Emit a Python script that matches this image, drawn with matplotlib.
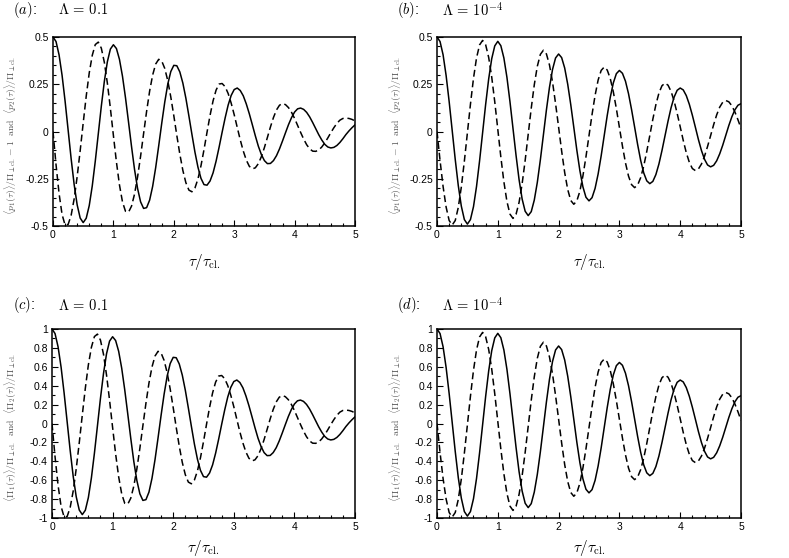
import numpy as np
import matplotlib
matplotlib.use("Agg")
import matplotlib.pyplot as plt
from matplotlib.ticker import MultipleLocator

plt.rcParams['mathtext.fontset'] = 'cm'
plt.rcParams['axes.unicode_minus'] = False
plt.rcParams['font.family'] = ['Liberation Sans', 'DejaVu Sans']

# time grid tau / tau_cl (step 0.05)
tau = np.linspace(0.0, 5.0, 101)

# (a) Lambda = 0.1 : <p1>/Pi - 1 (solid), <p2>/Pi (dashed)
a_solid = [
    0.500, 0.476, 0.406, 0.298, 0.161, 0.009, -0.143, -0.280, -0.388, -0.458,
    -0.482, -0.459, -0.392, -0.288, -0.157, -0.012, 0.134, 0.265, 0.369, 0.436,
    0.459, 0.439, 0.382, 0.293, 0.179, 0.051, -0.079, -0.201, -0.301, -0.372,
    -0.407, -0.403, -0.363, -0.290, -0.191, -0.076, 0.043, 0.155, 0.250, 0.317,
    0.350, 0.348, 0.315, 0.256, 0.176, 0.082, -0.015, -0.109, -0.189, -0.248,
    -0.281, -0.284, -0.262, -0.219, -0.157, -0.083, -0.004, 0.072, 0.140, 0.191,
    0.222, 0.230, 0.217, 0.189, 0.146, 0.094, 0.036, -0.023, -0.078, -0.122,
    -0.154, -0.170, -0.169, -0.154, -0.128, -0.092, -0.050, -0.006, 0.037, 0.074,
    0.103, 0.120, 0.124, 0.117, 0.101, 0.077, 0.047, 0.015, -0.017, -0.045,
    -0.068, -0.082, -0.087, -0.084, -0.074, -0.058, -0.038, -0.016, 0.003, 0.020,
    0.035]
a_dashed = [
    0.000, -0.175, -0.327, -0.439, -0.495, -0.492, -0.444, -0.357, -0.239, -0.101,
    0.045, 0.187, 0.310, 0.403, 0.460, 0.473, 0.441, 0.366, 0.256, 0.123,
    -0.021, -0.161, -0.282, -0.372, -0.422, -0.427, -0.395, -0.331, -0.241, -0.131,
    -0.011, 0.107, 0.214, 0.299, 0.357, 0.382, 0.373, 0.334, 0.269, 0.183,
    0.084, -0.021, -0.120, -0.206, -0.271, -0.310, -0.319, -0.299, -0.251, -0.181,
    -0.096, -0.004, 0.085, 0.162, 0.219, 0.251, 0.254, 0.237, 0.201, 0.150,
    0.089, 0.022, -0.044, -0.103, -0.151, -0.184, -0.198, -0.192, -0.170, -0.133,
    -0.085, -0.031, 0.024, 0.074, 0.114, 0.139, 0.148, 0.142, 0.126, 0.101,
    0.069, 0.032, -0.005, -0.040, -0.070, -0.092, -0.104, -0.105, -0.098, -0.082,
    -0.060, -0.034, -0.006, 0.020, 0.043, 0.060, 0.069, 0.071, 0.069, 0.064,
    0.056]

# (b) Lambda = 1e-4
b_solid = [
    0.500, 0.476, 0.406, 0.296, 0.158, 0.005, -0.148, -0.286, -0.395, -0.466,
    -0.490, -0.466, -0.398, -0.291, -0.156, -0.007, 0.143, 0.278, 0.385, 0.453,
    0.477, 0.454, 0.389, 0.287, 0.158, 0.016, -0.126, -0.255, -0.357, -0.422,
    -0.445, -0.424, -0.363, -0.269, -0.150, -0.018, 0.115, 0.234, 0.328, 0.389,
    0.410, 0.391, 0.336, 0.250, 0.142, 0.022, -0.099, -0.207, -0.293, -0.348,
    -0.367, -0.350, -0.301, -0.225, -0.129, -0.022, 0.085, 0.181, 0.257, 0.306,
    0.323, 0.308, 0.266, 0.200, 0.116, 0.024, -0.069, -0.153, -0.219, -0.261,
    -0.276, -0.264, -0.228, -0.172, -0.101, -0.023, 0.055, 0.126, 0.182, 0.218,
    0.230, 0.220, 0.190, 0.144, 0.086, 0.022, -0.043, -0.101, -0.147, -0.177,
    -0.187, -0.179, -0.155, -0.118, -0.072, -0.020, 0.032, 0.078, 0.115, 0.139,
    0.147]
b_dashed = [
    0.000, -0.153, -0.291, -0.400, -0.471, -0.495, -0.471, -0.402, -0.294, -0.157,
    -0.007, 0.144, 0.281, 0.389, 0.458, 0.482, 0.459, 0.392, 0.288, 0.157,
    0.011, -0.135, -0.266, -0.370, -0.437, -0.460, -0.438, -0.375, -0.277, -0.153,
    -0.015, 0.123, 0.247, 0.345, 0.408, 0.430, 0.410, 0.352, 0.262, 0.148,
    0.023, -0.103, -0.217, -0.307, -0.365, -0.385, -0.367, -0.316, -0.235, -0.134,
    -0.022, 0.090, 0.191, 0.272, 0.323, 0.341, 0.325, 0.280, 0.210, 0.121,
    0.022, -0.077, -0.166, -0.236, -0.281, -0.297, -0.283, -0.244, -0.183, -0.106,
    -0.021, 0.065, 0.142, 0.203, 0.242, 0.256, 0.245, 0.212, 0.161, 0.096,
    0.025, -0.047, -0.112, -0.163, -0.196, -0.207, -0.198, -0.172, -0.131, -0.079,
    -0.022, 0.036, 0.088, 0.129, 0.155, 0.164, 0.157, 0.136, 0.103, 0.062,
    0.017]

# (c) Lambda = 0.1 : <Pi1>/Pi, <Pi2>/Pi
c_solid = [
    1.000, 0.952, 0.812, 0.596, 0.322, 0.018, -0.286, -0.560, -0.776, -0.916,
    -0.964, -0.918, -0.784, -0.576, -0.314, -0.024, 0.268, 0.530, 0.738, 0.872,
    0.918, 0.878, 0.764, 0.586, 0.358, 0.102, -0.158, -0.402, -0.602, -0.744,
    -0.814, -0.806, -0.726, -0.580, -0.382, -0.152, 0.086, 0.310, 0.500, 0.634,
    0.700, 0.696, 0.630, 0.512, 0.352, 0.164, -0.030, -0.218, -0.378, -0.496,
    -0.562, -0.568, -0.524, -0.438, -0.314, -0.166, -0.008, 0.144, 0.280, 0.382,
    0.444, 0.460, 0.434, 0.378, 0.292, 0.188, 0.072, -0.046, -0.156, -0.244,
    -0.308, -0.340, -0.338, -0.308, -0.256, -0.184, -0.100, -0.012, 0.074, 0.148,
    0.206, 0.240, 0.248, 0.234, 0.202, 0.154, 0.094, 0.030, -0.034, -0.090,
    -0.136, -0.164, -0.174, -0.168, -0.148, -0.116, -0.076, -0.032, 0.006, 0.040,
    0.070]
c_dashed = [
    0.000, -0.350, -0.654, -0.878, -0.990, -0.984, -0.888, -0.714, -0.478, -0.202,
    0.090, 0.374, 0.620, 0.806, 0.920, 0.946, 0.882, 0.732, 0.512, 0.246,
    -0.042, -0.322, -0.564, -0.744, -0.844, -0.854, -0.790, -0.662, -0.482, -0.262,
    -0.022, 0.214, 0.428, 0.598, 0.714, 0.764, 0.746, 0.668, 0.538, 0.366,
    0.168, -0.042, -0.240, -0.412, -0.542, -0.620, -0.638, -0.598, -0.502, -0.362,
    -0.192, -0.008, 0.170, 0.324, 0.438, 0.502, 0.508, 0.474, 0.402, 0.300,
    0.178, 0.044, -0.088, -0.206, -0.302, -0.368, -0.396, -0.384, -0.340, -0.266,
    -0.170, -0.062, 0.048, 0.148, 0.228, 0.278, 0.296, 0.284, 0.252, 0.202,
    0.138, 0.064, -0.010, -0.080, -0.140, -0.184, -0.208, -0.210, -0.196, -0.164,
    -0.120, -0.068, -0.012, 0.040, 0.086, 0.120, 0.138, 0.142, 0.138, 0.128,
    0.112]

# (d) Lambda = 1e-4
d_solid = [
    1.000, 0.952, 0.812, 0.592, 0.316, 0.010, -0.296, -0.572, -0.790, -0.932,
    -0.980, -0.932, -0.796, -0.582, -0.312, -0.014, 0.286, 0.556, 0.770, 0.906,
    0.954, 0.908, 0.778, 0.574, 0.316, 0.032, -0.252, -0.510, -0.714, -0.844,
    -0.890, -0.848, -0.726, -0.538, -0.300, -0.036, 0.230, 0.468, 0.656, 0.778,
    0.820, 0.782, 0.672, 0.500, 0.284, 0.044, -0.198, -0.414, -0.586, -0.696,
    -0.734, -0.700, -0.602, -0.450, -0.258, -0.044, 0.170, 0.362, 0.514, 0.612,
    0.646, 0.616, 0.532, 0.400, 0.232, 0.048, -0.138, -0.306, -0.438, -0.522,
    -0.552, -0.528, -0.456, -0.344, -0.202, -0.046, 0.110, 0.252, 0.364, 0.436,
    0.460, 0.440, 0.380, 0.288, 0.172, 0.044, -0.086, -0.202, -0.294, -0.354,
    -0.374, -0.358, -0.310, -0.236, -0.144, -0.040, 0.064, 0.156, 0.230, 0.278,
    0.294]
d_dashed = [
    0.000, -0.306, -0.582, -0.800, -0.942, -0.990, -0.942, -0.804, -0.588, -0.314,
    -0.014, 0.288, 0.562, 0.778, 0.916, 0.964, 0.918, 0.784, 0.576, 0.314,
    0.022, -0.270, -0.532, -0.740, -0.874, -0.920, -0.876, -0.750, -0.554, -0.306,
    -0.030, 0.246, 0.494, 0.690, 0.816, 0.860, 0.820, 0.704, 0.524, 0.296,
    0.046, -0.206, -0.434, -0.614, -0.730, -0.770, -0.734, -0.632, -0.470, -0.268,
    -0.044, 0.180, 0.382, 0.544, 0.646, 0.682, 0.650, 0.560, 0.420, 0.242,
    0.044, -0.154, -0.332, -0.472, -0.562, -0.594, -0.566, -0.488, -0.366, -0.212,
    -0.042, 0.130, 0.284, 0.406, 0.484, 0.512, 0.490, 0.424, 0.322, 0.192,
    0.050, -0.094, -0.224, -0.326, -0.392, -0.414, -0.396, -0.344, -0.262, -0.158,
    -0.044, 0.072, 0.176, 0.258, 0.310, 0.328, 0.314, 0.272, 0.206, 0.124,
    0.034]

x_ticks = [0, 1, 2, 3, 4, 5]
x_ticklabels = ['0', '1', '2', '3', '4', '5']
p_ticks = [-0.5, -0.25, 0, 0.25, 0.5]
p_ticklabels = ['-0.5', '-0.25', '0', '0.25', '0.5']
pi_ticks = [-1, -0.8, -0.6, -0.4, -0.2, 0, 0.2, 0.4, 0.6, 0.8, 1]
pi_ticklabels = ['-1', '-0.8', '-0.6', '-0.4', '-0.2', '0', '0.2', '0.4', '0.6', '0.8', '1']

panel_letters = ['(a)', '(b)', '(c)', '(d)']
panel_lambdas = [r'$\Lambda\,=\,0.1$', r'$\Lambda\,=\,10^{-4}$',
                 r'$\Lambda\,=\,0.1$', r'$\Lambda\,=\,10^{-4}$']
ylabel_p = (r'$\langle p_1(\tau)\rangle/\Pi_{\perp{\rm cl.}} - 1\ \ {\rm and}\ \ '
            r'\langle p_2(\tau)\rangle/\Pi_{\perp{\rm cl.}}$')
ylabel_pi = (r'$\langle \Pi_1(\tau)\rangle/\Pi_{\perp{\rm cl.}}\ \ {\rm and}\ \ '
             r'\langle \Pi_2(\tau)\rangle/\Pi_{\perp{\rm cl.}}$')
xlabel = r'$\tau/\tau_{\rm cl.}$'

W, H = 789, 558
fig = plt.figure(figsize=(W / 100, H / 100), dpi=100)

# axes boxes in pixels: (x0, x1, ytop, ybottom)
boxes = [(53, 355, 37, 226), (437, 741, 37, 226), (52, 355, 329, 518), (437, 741, 329, 518)]
data = [(a_solid, a_dashed), (b_solid, b_dashed), (c_solid, c_dashed), (d_solid, d_dashed)]
title_pos = [(13, 10), (397, 10), (13, 305), (397, 305)]
ylabel_x = [11, 396, 11, 396]
xlabel_dy = [36, 36, 30, 30]

for i, (box, (ys, yd)) in enumerate(zip(boxes, data)):
    x0, x1, yt, yb = box
    ax = fig.add_axes([x0 / W, 1 - yb / H, (x1 - x0) / W, (yb - yt) / H])
    ax.plot(tau, ys, color='black', lw=1.1, solid_joinstyle='round')
    ax.plot(tau, yd, color='black', lw=1.1, linestyle=(0, (4.5, 2.5)))
    ax.set_xlim(0, 5)
    ax.set_xticks(x_ticks)
    ax.set_xticklabels(x_ticklabels)
    ax.xaxis.set_minor_locator(MultipleLocator(0.2))
    if i < 2:
        ax.set_ylim(-0.5, 0.5)
        ax.set_yticks(p_ticks)
        ax.set_yticklabels(p_ticklabels)
        ax.yaxis.set_minor_locator(MultipleLocator(0.05))
        yl = ylabel_p
    else:
        ax.set_ylim(-1, 1)
        ax.set_yticks(pi_ticks)
        ax.set_yticklabels(pi_ticklabels)
        ax.yaxis.set_minor_locator(MultipleLocator(0.1))
        yl = ylabel_pi
    ax.tick_params(which='both', direction='in', top=False, right=False,
                   labelsize=7.5, width=0.8, colors='black')
    ax.tick_params(which='major', length=4, pad=3)
    ax.tick_params(which='minor', length=2.5)
    for s in ax.spines.values():
        s.set_linewidth(1.1)
    yc = (yt + yb) / 2 + 4
    fig.text(ylabel_x[i] / W, 1 - yc / H, yl, fontsize=7, color='#555555',
             rotation=90, ha='center', va='center')
    fig.text((x0 + x1) / 2 / W, 1 - (yb + xlabel_dy[i]) / H, xlabel, fontsize=11,
             ha='center', va='center')
    tx, ty = title_pos[i]
    fig.text(tx / W, 1 - ty / H, r'$' + panel_letters[i] + r'$:', fontsize=10.5,
             va='center', ha='left')
    fig.text((tx + 45) / W, 1 - ty / H, panel_lambdas[i], fontsize=10.5,
             va='center', ha='left')

fig.savefig('out.png', dpi=100)
